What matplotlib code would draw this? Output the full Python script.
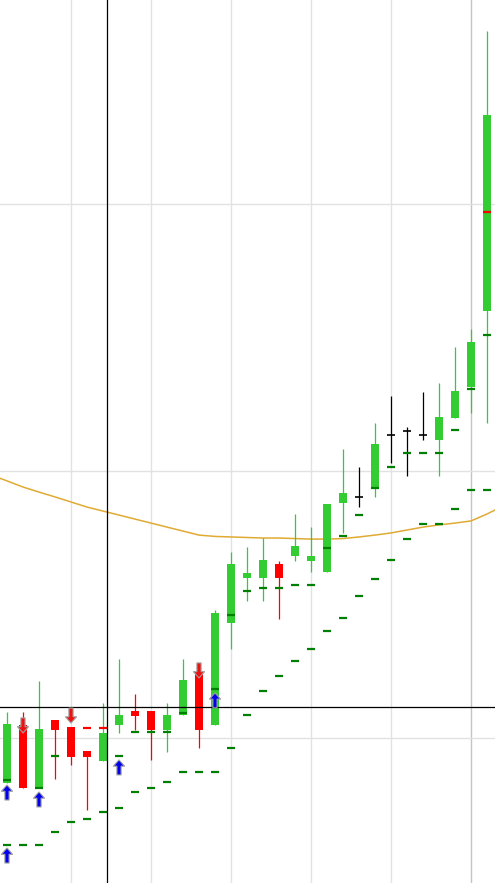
import numpy as np
import matplotlib
matplotlib.use('Agg')
import matplotlib.pyplot as plt


# candles, one per bar (index 0..30)
opens = [98.31, 100.49, 98.13, 100.67, 100.41, 99.51, 99.14, 100.49, 101.01, 101.01,
         100.30, 100.86, 102.40, 100.49, 104.31, 105.99, 105.99, 106.52, 106.82, 106.63,
         106.22, 108.80, 109.03, 109.36, 111.35, 111.50, 111.35, 111.16, 111.99, 113.15,
         115.99]
highs = [100.97, 100.97, 102.13, 100.67, 100.41, 99.51, 101.31, 102.96, 101.65, 101.01,
         101.31, 102.96, 102.40, 104.79, 106.97, 107.15, 107.49, 106.63, 108.39, 107.90,
         108.77, 110.82, 110.15, 111.80, 112.81, 111.65, 112.96, 113.30, 114.64, 115.32,
         126.48]
lows = [98.30, 98.13, 98.13, 98.46, 98.99, 97.30, 99.14, 100.19, 100.30, 99.18,
        99.48, 100.86, 99.63, 100.49, 103.33, 105.13, 105.13, 104.46, 106.63, 106.22,
        106.22, 107.68, 108.65, 109.03, 110.30, 109.81, 111.16, 109.81, 111.99, 112.17,
        111.80]
closes = [100.52, 98.13, 100.34, 100.30, 99.29, 99.29, 100.19, 100.86, 100.82, 100.30,
          100.86, 102.17, 100.30, 104.68, 106.52, 106.18, 106.67, 105.99, 107.19, 106.82,
          108.77, 109.18, 109.03, 111.01, 111.35, 111.50, 111.35, 112.02, 113.00, 114.83,
          123.33]

nan = np.nan
# trailing levels (dark green dashes)
stop_upper = [98.43, nan, 98.13, 99.33, nan, nan, nan, 99.33, 100.22, 100.22,
              100.22, 100.94, nan, 101.84, 104.61, 105.51, 105.62, 105.62, 105.73, 105.73,
              107.12, 107.57, 108.35, 109.36, 110.15, 110.67, 110.67, 110.67, 111.54, 113.07,
              115.09]
stop_lower = [95.99, 95.99, 95.99, 96.48, 96.85, 96.97, 97.23, 97.38, 97.98, 98.13,
              98.35, 98.73, 98.73, 98.73, 99.63, 100.86, 101.76, 102.32, 102.88, 103.33,
              104.01, 104.49, 105.32, 105.96, 106.67, 107.45, 108.01, 108.01, 108.58, 109.29,
              109.29]
stop_red = [nan] * 5 + [100.37, 100.37] + [nan] * 23 + [119.70]

# moving average, bars -1..31
ma_idx = list(range(-1, 32))
ma = [109.85, 109.63, 109.40, 109.21, 109.03, 108.84, 108.65, 108.50, 108.35, 108.20,
      108.05, 107.90, 107.75, 107.60, 107.55, 107.53, 107.51, 107.49, 107.49, 107.47,
      107.45, 107.45, 107.47, 107.53, 107.60, 107.68, 107.79, 107.90, 107.98, 108.05,
      108.13, 108.39, 108.69]

# signal arrows: (bar, tip level)
buy_bars = [0, 2, 7, 13, 0]
buy_tips = [98.24, 97.98, 99.18, 101.69, 95.88]
sell_bars = [1, 4, 12]
sell_tips = [100.19, 100.56, 102.25]

cross_x = 6.25
cross_y = 101.16
grid_x = [4, 9, 14, 19, 24]
grid_x_dark = [29]
grid_y = [100, 110, 120]

GREEN = '#33cc33'
RED = '#ff0000'
DASH = '#008000'

fig = plt.figure(figsize=(4.95, 8.83), dpi=100)
ax = fig.add_axes([0, 0, 1, 1])
ax.set_xlim(-0.4375, 30.5)
ax.set_ylim(94.57, 127.64)
ax.axis('off')

for gx in grid_x:
    ax.axvline(gx, color='#e2e2e2', lw=1, zorder=0)
for gx in grid_x_dark:
    ax.axvline(gx, color='#c4c4c4', lw=1, zorder=0)
for gy in grid_y:
    ax.axhline(gy, color='#e2e2e2', lw=1, zorder=0)

ax.plot(ma_idx, ma, color='#e0aa33', lw=1.1, zorder=1)

w = 0.44
for i in range(len(opens)):
    o, h, l, c = opens[i], highs[i], lows[i], closes[i]
    if c > o:
        col = GREEN
    elif c < o:
        col = RED
    else:
        col = 'black'
    ax.vlines(i, l, h, color=col, lw=0.9, zorder=2)
    if col == 'black':
        ax.hlines(o, i - 0.25, i + 0.25, color='black', lw=1.2, zorder=3)
    else:
        ax.bar(i, abs(c - o), width=w, bottom=min(o, c), color=col, lw=0, zorder=3)

x = np.arange(len(opens))
ax.hlines(stop_upper, x - 0.22, x + 0.22, color=DASH, lw=1.6, zorder=4)
ax.hlines(stop_lower, x - 0.22, x + 0.22, color=DASH, lw=1.6, zorder=4)
ax.hlines(stop_red, x - 0.22, x + 0.22, color=RED, lw=1.6, zorder=4)

ax.axvline(cross_x, color='black', lw=0.9, zorder=5)
ax.axhline(cross_y, color='black', lw=0.9, zorder=5)

style = 'simple,head_length=0.45,head_width=0.8,tail_width=0.3'
for b, t in zip(buy_bars, buy_tips):
    ax.annotate('', xy=(b, t), xytext=(0, -15), textcoords='offset pixels',
                arrowprops=dict(arrowstyle=style, mutation_scale=10, fc='#0000ee',
                                ec='#a0a0a0', lw=0.8, shrinkA=0, shrinkB=0), zorder=6)
for b, t in zip(sell_bars, sell_tips):
    ax.annotate('', xy=(b, t), xytext=(0, 15), textcoords='offset pixels',
                arrowprops=dict(arrowstyle=style, mutation_scale=10, fc='#ee1111',
                                ec='#a0a0a0', lw=0.8, shrinkA=0, shrinkB=0), zorder=6)

fig.savefig('out.png', dpi=100)
